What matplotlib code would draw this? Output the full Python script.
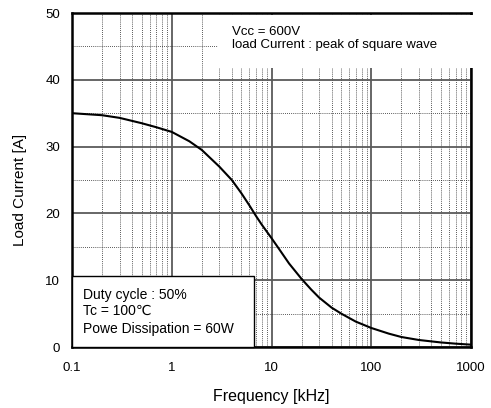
import numpy as np
import matplotlib
matplotlib.use("Agg")
import matplotlib.pyplot as plt
from matplotlib.patches import Rectangle

plt.rcParams['font.family'] = ['Liberation Sans', 'DejaVu Sans']

# values
freq_khz = [0.1, 0.2, 0.3, 0.5, 0.7, 1, 1.5, 2, 3, 4, 5, 6, 7, 8, 10, 12, 15,
            20, 25, 30, 40, 50, 70, 100, 150, 200, 300, 500, 700, 1000]
current_a = [35.0, 34.7, 34.3, 33.5, 32.9, 32.2, 30.8, 29.5, 27.0, 25.0, 23.0,
             21.2, 19.6, 18.3, 16.3, 14.6, 12.5, 10.2, 8.6, 7.4, 5.9, 5.0,
             3.8, 2.85, 2.0, 1.5, 1.05, 0.68, 0.5, 0.35]

xticks = [0.1, 1, 10, 100, 1000]
xtick_labels = ['0.1', '1', '10', '100', '1000']
yticks = [0, 10, 20, 30, 40, 50]

cond_top = ['Vcc = 600V', 'load Current : peak of square wave']
cond_bottom = ['Duty cycle : 50%', 'Tc = 100\u2103', 'Powe Dissipation = 60W']

fig = plt.figure(figsize=(4.91, 4.08), dpi=100)
ax = fig.add_axes([72 / 491, 1 - 347 / 408, 399 / 491, 334 / 408])

ax.set_xscale('log')
ax.set_xlim(0.1, 1000)
ax.set_ylim(0, 50)

# grid: solid majors, dotted minors
ax.set_xticks(xticks)
ax.set_xticklabels(xtick_labels)
minor_x = [m * d for d in [0.1, 1, 10, 100] for m in range(2, 10)]
ax.set_xticks(minor_x, minor=True)
ax.set_yticks(yticks)
ax.set_yticks([5, 15, 25, 35, 45], minor=True)
ax.tick_params(which='both', length=0)
ax.tick_params(axis='x', pad=10.5, labelsize=9.5)
ax.tick_params(axis='y', pad=8.5, labelsize=9.5)

ax.grid(which='major', color='#5a5a5a', lw=1.3, ls='-', zorder=1)
ax.grid(which='minor', color='#222222', lw=0.6, ls=(0, (1, 1.5)), zorder=1)
ax.set_axisbelow(True)

for s in ax.spines.values():
    s.set_linewidth(1.8)

ax.plot(freq_khz, current_a, color='black', lw=1.5, zorder=2)

# top-right condition block (white, covers grid and part of right spine)
ax.add_patch(Rectangle((0.366, 0.835), 0.66, 0.16, transform=ax.transAxes,
                       facecolor='white', edgecolor='none', zorder=3,
                       clip_on=False))
for txt, yy in zip(cond_top, [0.9356, 0.895]):
    ax.text(0.401, yy, txt, transform=ax.transAxes, fontsize=9.5,
            va='baseline', ha='left', zorder=4)

# bottom-left condition block
ax.add_patch(Rectangle((0, 0), 0.456, 0.213, transform=ax.transAxes,
                       facecolor='white', edgecolor='black', lw=1.0,
                       zorder=3, clip_on=False))
for txt, yy in zip(cond_bottom, [0.1437, 0.0958, 0.0428]):
    ax.text(0.0276, yy, txt, transform=ax.transAxes, fontsize=10,
            va='baseline', ha='left', zorder=4)

fig.text(271 / 491, 1 - 396 / 408, 'Frequency [kHz]', fontsize=11.5,
         ha='center', va='center')
fig.text(20 / 491, 1 - 190 / 408, 'Load Current [A]', fontsize=11,
         ha='center', va='center', rotation=90)

fig.savefig('out.png', dpi=100)
